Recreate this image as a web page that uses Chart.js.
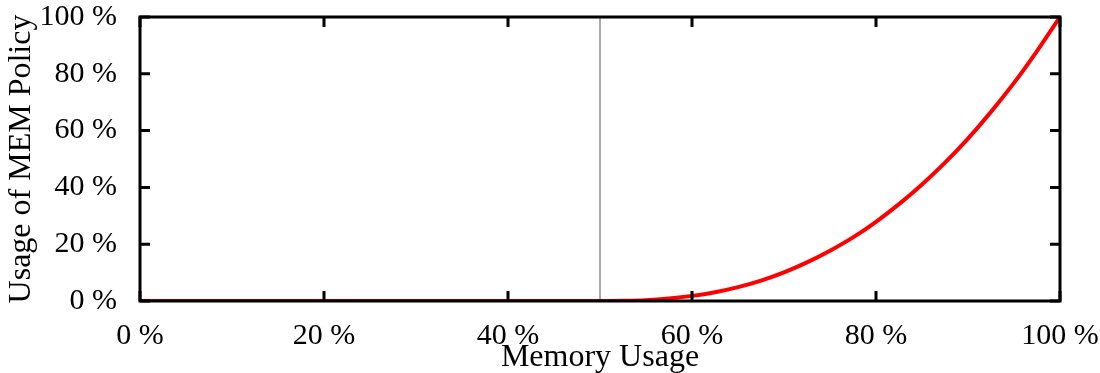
<!DOCTYPE html>
<html>
<head>
<meta charset="utf-8">
<script src="https://cdn.jsdelivr.net/npm/chart.js@4/dist/chart.umd.min.js"></script>
<style>
  html, body { margin: 0; padding: 0; background: #ffffff; }
  #wrap { width: 1100px; height: 373px; }
</style>
</head>
<body>
<div id="wrap"><canvas id="c" width="1100" height="373"></canvas></div>
<script>
// Memory usage (x, %) and usage of MEM policy (y, %)
const memoryUsage = [0, 50, 52.5, 55, 57.5, 60, 62.5, 65, 67.5, 70, 72.5, 75, 77.5, 80, 82.5, 85, 87.5, 90, 92.5, 95, 97.5, 100];
const policyUsage = [0, 0, 0.06, 0.3, 0.9, 1.8, 3.1, 4.9, 7.2, 10.1, 13.6, 17.7, 22.4, 27.9, 34.1, 41.0, 48.7, 57.2, 66.6, 76.8, 88.0, 100];
// Vertical marker line at 50 % memory usage
const markerX = [50, 50];
const markerY = [0, 100];
const xTickValues = [0, 20, 40, 60, 80, 100];
const yTickValues = [0, 20, 40, 60, 80, 100];
const xTitle = 'Memory Usage';
const yTitle = 'Usage of MEM Policy';

const FONT = '"Liberation Serif", "Times New Roman", serif';

const framePlugin = {
  id: 'frame',
  afterDatasetsDraw(chart) {
    const {ctx, chartArea: a, scales: {x, y}} = chart;
    ctx.save();
    ctx.strokeStyle = '#000';
    ctx.lineWidth = 3;
    ctx.lineCap = 'butt';
    const tl = 10;
    ctx.beginPath();
    xTickValues.forEach(v => {
      const px = x.getPixelForValue(v);
      ctx.moveTo(px, a.bottom); ctx.lineTo(px, a.bottom - tl);
      ctx.moveTo(px, a.top); ctx.lineTo(px, a.top + tl);
    });
    yTickValues.forEach(v => {
      const py = y.getPixelForValue(v);
      ctx.moveTo(a.left, py); ctx.lineTo(a.left + tl, py);
      ctx.moveTo(a.right, py); ctx.lineTo(a.right - tl, py);
    });
    ctx.stroke();
    ctx.strokeRect(a.left, a.top, a.right - a.left, a.bottom - a.top);
    ctx.restore();
  }
};

function zeroPad(s) { s.paddingLeft = 0; s.paddingRight = 0; s.paddingTop = 0; s.paddingBottom = 0; }

new Chart(document.getElementById('c'), {
  type: 'line',
  data: {
    datasets: [
      {
        data: memoryUsage.map((v, i) => ({x: v, y: policyUsage[i]})),
        borderColor: '#ff0000',
        borderWidth: 4,
        pointRadius: 0,
        cubicInterpolationMode: 'monotone',
        fill: false
      },
      {
        data: markerX.map((v, i) => ({x: v, y: markerY[i]})),
        borderColor: '#8c8c8c',
        borderWidth: 1.5,
        pointRadius: 0,
        fill: false
      }
    ]
  },
  options: {
    responsive: false,
    animation: false,
    events: [],
    layout: { padding: { top: 17, right: 40, left: 0, bottom: 0 } },
    plugins: { legend: { display: false }, tooltip: { enabled: false }, title: { display: false } },
    scales: {
      x: {
        type: 'linear',
        min: 0, max: 100,
        afterBuildTicks: s => { s.ticks = xTickValues.map(v => ({value: v})); },
        afterFit: s => { s.height = 72; zeroPad(s); },
        grid: { display: false, drawTicks: false },
        border: { display: false },
        ticks: {
          color: '#000',
          font: { family: FONT, size: 30, lineHeight: 1 },
          padding: 20,
          maxRotation: 0,
          callback: v => v + ' %'
        },
        title: {
          display: true, text: xTitle, color: '#000',
          font: { family: FONT, size: 32, lineHeight: 1 },
          padding: { top: 0, bottom: -1 }
        }
      },
      y: {
        type: 'linear',
        min: 0, max: 100,
        afterBuildTicks: s => { s.ticks = yTickValues.map(v => ({value: v})); },
        afterFit: s => { s.width = 140; zeroPad(s); },
        grid: { display: false, drawTicks: false },
        border: { display: false },
        ticks: {
          color: '#000',
          font: { family: FONT, size: 30, lineHeight: 1 },
          padding: 23,
          callback: v => v + ' %'
        },
        title: {
          display: true, text: yTitle, color: '#000',
          font: { family: FONT, size: 32, lineHeight: 1 },
          padding: { top: 6, bottom: 0 }
        }
      }
    }
  },
  plugins: [framePlugin]
});
</script>
</body>
</html>
